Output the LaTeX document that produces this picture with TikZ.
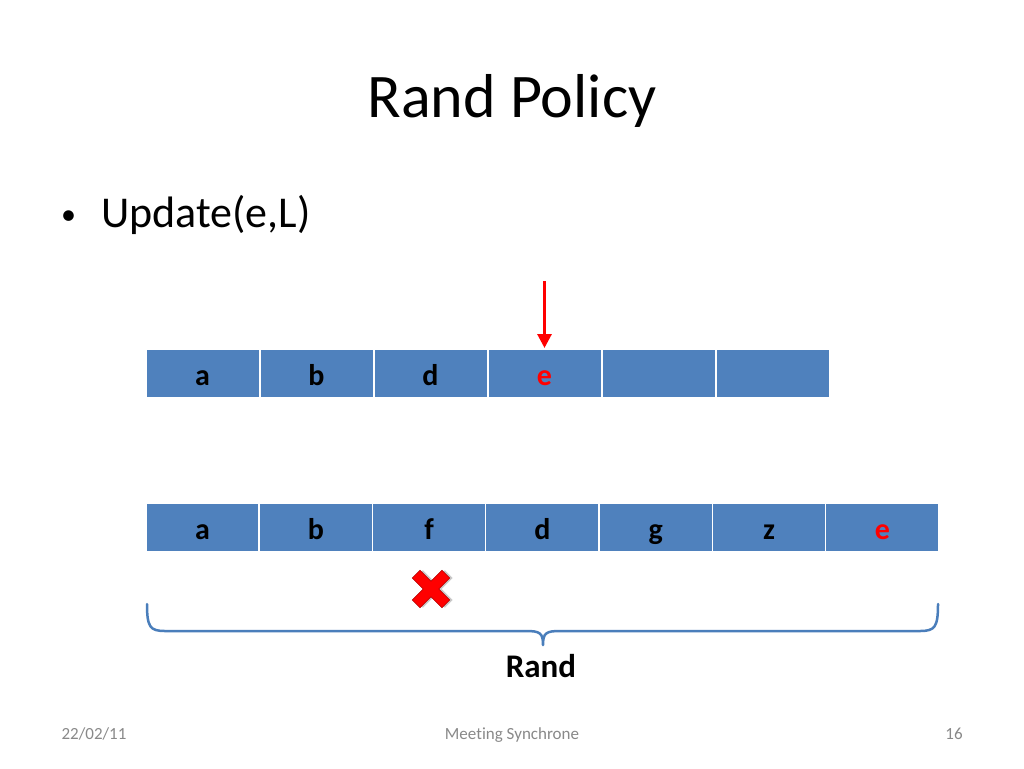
\documentclass[tikz,border=0pt]{standalone}
\usepackage{fontspec}
\setmainfont{Carlito}[Ligatures=CommonOff]
\usetikzlibrary{arrows.meta}
\definecolor{cellblue}{HTML}{4F81BD}
\definecolor{bracecol}{HTML}{4A7EBB}
\definecolor{footgray}{HTML}{898989}
\definecolor{xred}{HTML}{FF0000}
\begin{document}
\begin{tikzpicture}[x=1pt,y=-1pt,
  cell/.style={draw=white, line width=1.5pt, fill=cellblue, minimum width=113.5pt,
    minimum height=49pt, inner sep=0pt, anchor=north west,
    font=\fontsize{30}{32}\selectfont\bfseries, text height=25pt, text depth=0pt},
  redtext/.style={text=xred},
  foot/.style={font=\fontsize{17}{19}\selectfont, text=footgray, anchor=base},
  pointer/.style={draw=xred, line width=3pt, -{Triangle[length=14pt,width=14pt]}},
  bracestyle/.style={draw=bracecol, line width=2.5pt, line cap=round, line join=round}]
\useasboundingbox[fill=white] (0,0) rectangle (1024,768);
% title
\node[anchor=base, font=\fontsize{62}{70}\selectfont] (title) at (512,117) {Rand Policy};
\node[anchor=base west, font=\fontsize{30}{34}\selectfont, inner sep=0pt] (bul) at (61,224) {•};
\node[anchor=base west, font=\fontsize{44}{50}\selectfont, inner sep=0pt] (upd) at (101,227) {Update(e,L)};
% top row
\node[cell] (t1) at (145,348) {a};
\node[cell] (t2) at (259,348) {b};
\node[cell] (t3) at (373,348) {d};
\node[cell, redtext] (t4) at (487,348) {e};
\node[cell] (t5) at (601,348) {};
\node[cell] (t6) at (715,348) {};
% arrow
\coordinate (arrtop) at (544.5,281);
\draw[pointer] (arrtop) -- (t4.north);
% bottom row
\node[cell] (b1) at (145,502) {a};
\node[cell] (b2) at (258.3,502) {b};
\node[cell] (b3) at (371.6,502) {f};
\node[cell] (b4) at (484.9,502) {d};
\node[cell] (b5) at (598.2,502) {g};
\node[cell] (b6) at (711.5,502) {z};
\node[cell, redtext] (b7) at (824.8,502) {e};
% cross
\begin{scope}[shift={(431,589)}, rotate=45]
  \fill[black!35, opacity=0.6, shift={(2,2)}] (-5.5,-21) -- (5.5,-21) -- (5.5,-5.5) -- (21,-5.5) -- (21,5.5) -- (5.5,5.5) -- (5.5,21) -- (-5.5,21) -- (-5.5,5.5) -- (-21,5.5) -- (-21,-5.5) -- (-5.5,-5.5) -- cycle;
  \filldraw[fill=xred, draw=xred!70!black, line width=0.6pt] (-5.5,-21) -- (5.5,-21) -- (5.5,-5.5) -- (21,-5.5) -- (21,5.5) -- (5.5,5.5) -- (5.5,21) -- (-5.5,21) -- (-5.5,5.5) -- (-21,5.5) -- (-21,-5.5) -- (-5.5,-5.5) -- cycle;
\end{scope}
% brace
\coordinate (bl) at (147,604);
\coordinate (br) at (938,604);
\coordinate (bm) at (543,645);
\draw[bracestyle] (bl) .. controls (147,627) and (150,631) .. (165,631) -- (526,631)
  .. controls (540,631) and (543,633) .. (bm)
  .. controls (543,633) and (546,631) .. (560,631) -- (920,631)
  .. controls (935,631) and (938,627) .. (br);
\node[anchor=base, font=\fontsize{33}{36}\selectfont\bfseries] (rand) at (541,677) {Rand};
% footer
\node[foot] (date) at (94,739) {22/02/11};
\node[foot] (mid) at (512,739) {Meeting Synchrone};
\node[foot] (num) at (954,739) {16};
\end{tikzpicture}
\end{document}
